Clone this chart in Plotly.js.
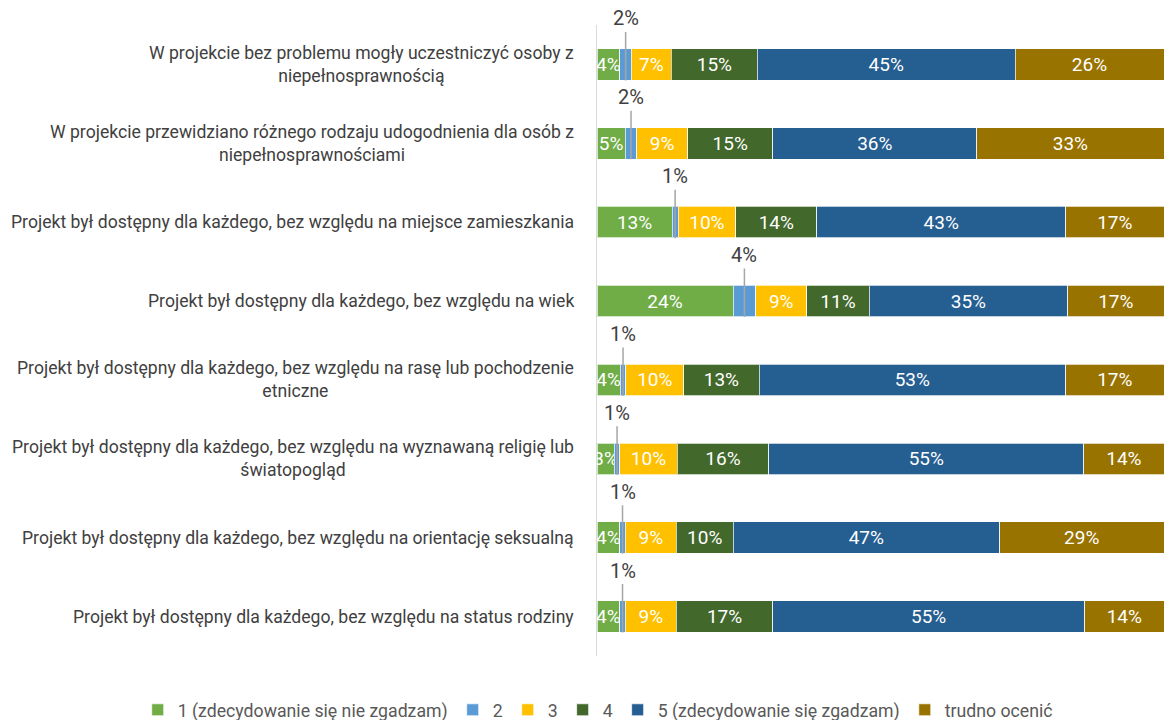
<!DOCTYPE html>
<html>
<head>
<meta charset="utf-8">
<script src="https://cdn.plot.ly/plotly-3.0.1.min.js"></script>
<style>
  html, body { margin: 0; padding: 0; background: #fff; }
  #chart { width: 1165px; height: 720px; }
</style>
</head>
<body>
<div id="chart"></div>
<script>
// Survey statements (top to bottom)
const categories = [
  'W projekcie bez problemu mogły uczestniczyć osoby z<br>niepełnosprawnością',
  'W projekcie przewidziano różnego rodzaju udogodnienia dla osób z<br>niepełnosprawnościami',
  'Projekt był dostępny dla każdego, bez względu na miejsce zamieszkania',
  'Projekt był dostępny dla każdego, bez względu na wiek',
  'Projekt był dostępny dla każdego, bez względu na rasę lub pochodzenie<br>etniczne',
  'Projekt był dostępny dla każdego, bez względu na wyznawaną religię lub<br>światopogląd',
  'Projekt był dostępny dla każdego, bez względu na orientację seksualną',
  'Projekt był dostępny dla każdego, bez względu na status rodziny'
];

const seriesNames = [
  '1 (zdecydowanie się nie zgadzam)',
  '2',
  '3',
  '4',
  '5 (zdecydowanie się zgadzam)',
  'trudno ocenić'
];

// Percent shares per answer
const answer1 = [4, 5, 13, 24, 4, 3, 4, 4];
const answer2 = [2, 2, 1, 4, 1, 1, 1, 1];
const answer3 = [7, 9, 10, 9, 10, 10, 9, 9];
const answer4 = [15, 15, 14, 11, 13, 16, 10, 17];
const answer5 = [45, 36, 43, 35, 53, 55, 47, 55];
const hardToSay = [26, 33, 17, 17, 17, 14, 29, 14];

const seriesValues = [answer1, answer2, answer3, answer4, answer5, hardToSay];
const seriesColors = ['#70AD47', '#5B9BD5', '#FFC000', '#43682B', '#255E91', '#997300'];

const FONT = 'Roboto, "Liberation Sans", sans-serif';

const traces = seriesValues.map((vals, i) => ({
  type: 'bar',
  orientation: 'h',
  name: seriesNames[i],
  y: categories,
  x: vals,
  text: vals.map(v => v + '%'),
  texttemplate: '%{text}',
  textposition: i === 1 ? 'none' : 'inside',
  insidetextanchor: 'middle',
  textangle: 0,
  constraintext: 'none',
  textfont: { family: FONT, size: 19, color: '#FFFFFF' },
  marker: { color: seriesColors[i], line: { color: 'rgba(255,255,255,0.7)', width: 1 } },
  hoverinfo: 'skip'
}));

// Category labels, centred lines like the original
const annotations = categories.map(c => ({
  xref: 'paper', yref: 'y',
  x: 0, y: c,
  xanchor: 'right', yanchor: 'middle',
  xshift: -21,
  align: 'center',
  text: c,
  showarrow: false,
  font: { family: FONT, size: 17.6, color: '#404040' }
}));

// Leader labels for the thin "2" segment
categories.forEach((c, k) => {
  const total = seriesValues.reduce((s, arr) => s + arr[k], 0);
  const mid = answer1[k] + answer2[k] / 2;
  annotations.push({
    xref: 'x', yref: 'y',
    x: mid / total * 100, y: c,
    ax: 0, ay: -62,
    yshift: -16,
    text: answer2[k] + '%',
    showarrow: true,
    arrowhead: 0,
    arrowwidth: 1.5,
    arrowcolor: '#A6A6A6',
    standoff: 0,
    font: { family: FONT, size: 20, color: '#404040' }
  });
});

const layout = {
  width: 1165,
  height: 720,
  paper_bgcolor: '#FFFFFF',
  plot_bgcolor: '#FFFFFF',
  barmode: 'stack',
  barnorm: 'percent',
  bargap: 0.6,
  font: { family: FONT, size: 17, color: '#404040' },
  margin: { l: 597, r: 1, t: 25, b: 64, autoexpand: false },
  xaxis: {
    range: [0, 100],
    showgrid: false,
    zeroline: false,
    showticklabels: false,
    ticks: '',
    fixedrange: true
  },
  yaxis: {
    range: [categories.length - 0.5, -0.5],
    autorange: false,
    showticklabels: false,
    ticks: '',
    showgrid: false,
    showline: true,
    linecolor: '#D9D9D9',
    linewidth: 1.5,
    fixedrange: true
  },
  showlegend: true,
  legend: {
    orientation: 'h',
    xref: 'paper', yref: 'paper',
    x: -0.81, xanchor: 'left',
    y: -0.086, yanchor: 'middle',
    traceorder: 'normal',
    font: { family: FONT, size: 17.7, color: '#595959' },
    itemwidth: 30
  },
  annotations: annotations
};

Plotly.newPlot('chart', traces, layout, { displayModeBar: false, staticPlot: true });
</script>
</body>
</html>
